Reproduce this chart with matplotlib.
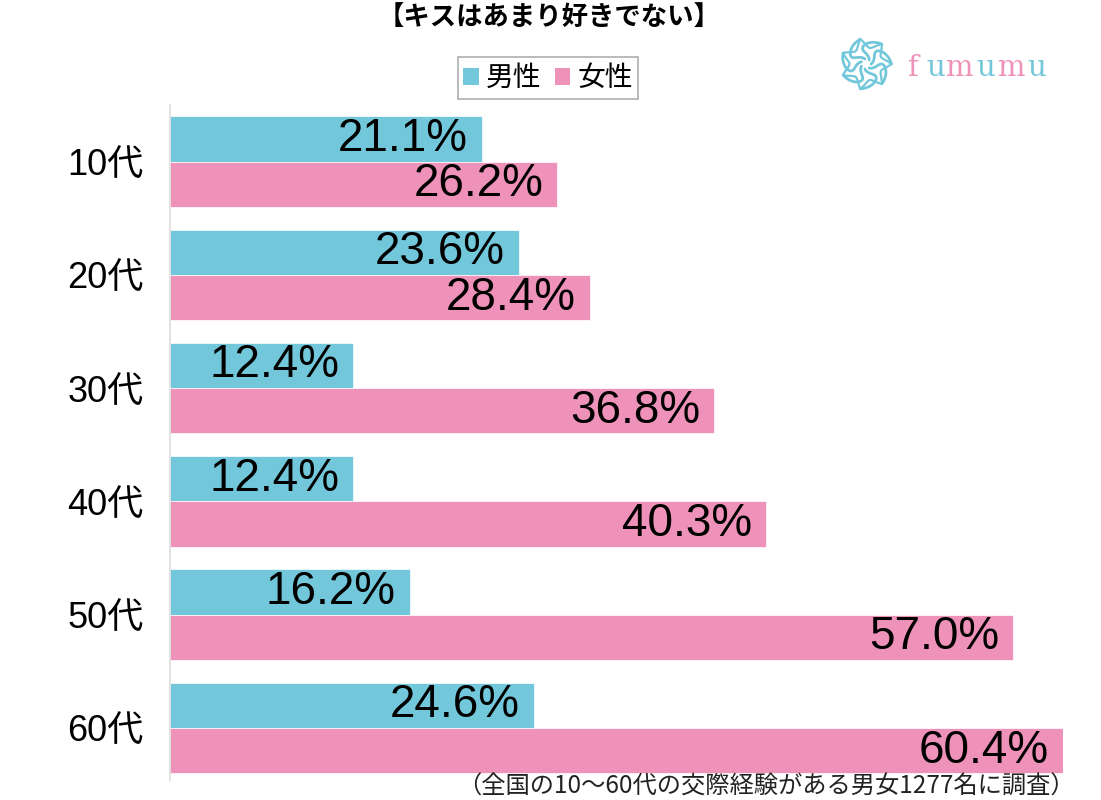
import numpy as np
import matplotlib
matplotlib.use("Agg")
import matplotlib.pyplot as plt
from matplotlib.patches import Patch

plt.rcParams['font.family'] = ['Noto Sans CJK JP', 'DejaVu Sans']
num_font = ['Liberation Sans', 'Noto Sans CJK JP']

# data
ages = ['10代', '20代', '30代', '40代', '50代', '60代']
male = [21.1, 23.6, 12.4, 12.4, 16.2, 24.6]
female = [26.2, 28.4, 36.8, 40.3, 57.0, 60.4]
series_names = ['男性', '女性']
title = '【キスはあまり好きでない】'
note = '（全国の10〜60代の交際経験がある男女1277名に調査）'

cyan = '#72C8DA'
pink = '#EE92B9'

fig = plt.figure(figsize=(11.01, 8.0), dpi=100)
ax = fig.add_axes([170 / 1101, 1 - 780 / 800, (1063 - 170) / 1101, (780 - 105) / 800])

y = np.arange(len(ages))
h = 0.4
bars_m = ax.barh(y - h / 2, male, height=h, color=cyan, edgecolor='white', linewidth=0.5)
bars_f = ax.barh(y + h / 2, female, height=h, color=pink, edgecolor='white', linewidth=0.5)

for bars, vals in ((bars_m, male), (bars_f, female)):
    for b, v in zip(bars, vals):
        ax.annotate(f'{v:.1f}%', (v, b.get_y() + b.get_height() / 2),
                    xytext=(-10, 0), textcoords='offset points',
                    ha='right', va='center', fontsize=33, family=num_font, color='black')

ax.set_xlim(0, 60.4)
ax.set_ylim(len(ages) - 0.54, -0.5)
ax.set_yticks(y)
ax.set_yticklabels(ages, fontsize=26, family=num_font)
ax.tick_params(axis='y', length=0, pad=19)
ax.set_xticks([])
for s in ('top', 'right', 'bottom'):
    ax.spines[s].set_visible(False)
ax.spines['left'].set_color('#dddddd')
ax.spines['left'].set_linewidth(1.2)

fig.text(549 / 1101, 1 - 17 / 800, title, ha='center', va='center',
         fontsize=19, fontweight='bold')

handles = [Patch(facecolor=cyan, edgecolor='none'), Patch(facecolor=pink, edgecolor='none')]
leg = fig.legend(handles, series_names, loc='center', bbox_to_anchor=(548 / 1101, 1 - 78 / 800),
                 ncol=2, fontsize=20, frameon=True, fancybox=False, edgecolor='#999999',
                 handlelength=0.55, handleheight=0.55, handletextpad=0.25, columnspacing=0.5,
                 borderpad=0.2, borderaxespad=0)
leg.get_frame().set_linewidth(1.2)

fig.text(1075 / 1101, 1 - 787 / 800, note, ha='right', va='center', fontsize=17.5, color='#222222')

# logo
lax = fig.add_axes([838 / 1101, 1 - 92 / 800, 56 / 1101, 56 / 800])
lax.set_xlim(-1.1, 1.1)
lax.set_ylim(-1.1, 1.1)
lax.axis('off')
t = np.linspace(0, 1, 40)
for k in range(7):
    a = 2 * np.pi * k / 7
    r = 0.2 + 0.8 * t
    th = a + 0.9 * np.sin(np.pi * t)
    lax.plot(r * np.cos(th), r * np.sin(th), color=cyan, lw=2.0, solid_capstyle='round')
    r2 = 1.0 - 0.35 * np.sin(np.pi * t)
    th2 = a + 0.9 * t
    lax.plot(r2 * np.cos(th2), r2 * np.sin(th2), color=cyan, lw=1.6, solid_capstyle='round')

letters = 'fumumu'
letter_x = [913, 936, 960, 986, 1012, 1037]
for i, (ch, lx) in enumerate(zip(letters, letter_x)):
    fig.text(lx / 1101, 1 - 76 / 800, ch, ha='center', va='baseline',
             fontsize=21, family='DejaVu Serif', color=pink if i % 2 == 0 else cyan)

fig.savefig('out.png', dpi=100, facecolor='white')
